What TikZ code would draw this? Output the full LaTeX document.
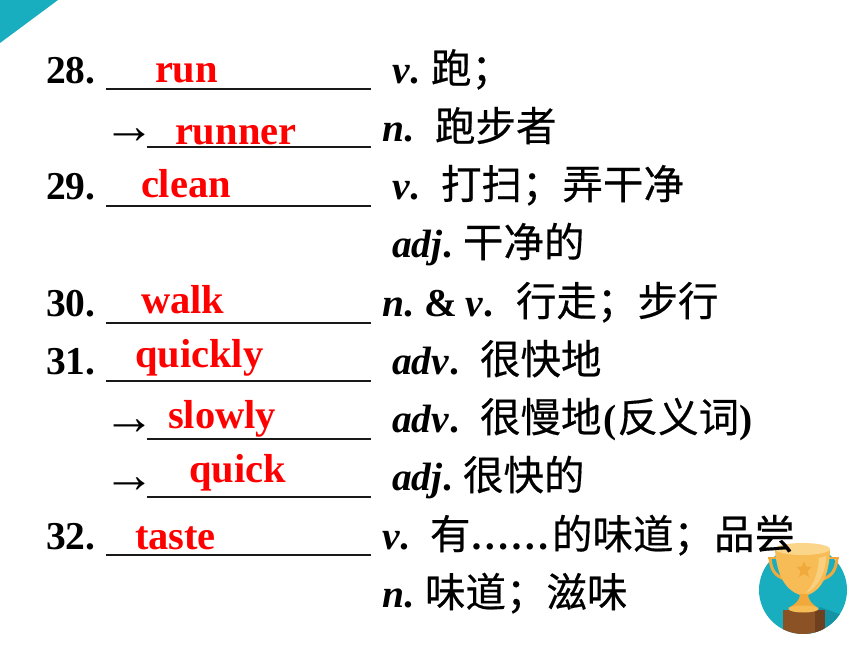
\documentclass[tikz,border=0pt]{standalone}
\usepackage{fontspec}
\setmainfont{Liberation Serif}
\newfontfamily\cjk[FakeBold=0.4]{Noto Sans CJK SC}
\usetikzlibrary{calc}
\definecolor{teal1}{HTML}{19AEBF}
\definecolor{teal2}{HTML}{1592A3}
\definecolor{gold1}{HTML}{F7BC55}
\definecolor{gold2}{HTML}{F2A93B}
\definecolor{gold3}{HTML}{FBD58A}
\definecolor{brown1}{HTML}{8B5226}
\definecolor{brown2}{HTML}{6F4020}
\tikzset{
  x=1pt,y=-1pt,
  txt/.style={inner sep=0pt,outer sep=0pt,anchor=base west,font=\fontsize{39.5}{39.5}\selectfont\bfseries},
  arr/.style={txt,font=\fontsize{52}{52}\selectfont},
  ans/.style={txt,text=red,font=\fontsize{40.5}{40.5}\selectfont\bfseries},
  zh/.style={txt,font=\fontsize{40.5}{40.5}\selectfont\cjk},
  blank/.style={line width=2.2pt,black!90},
}
\newcommand{\pos}[1]{\textit{#1}}
\begin{document}
\begin{tikzpicture}
\useasboundingbox (0,0) rectangle (860,645);
\fill[white] (0,0) rectangle (860,645);
\fill[teal1] (0,0) -- (58,0) -- (0,43) -- cycle;
% trophy
\fill[teal1] (803,590) circle (44);
\begin{scope}
\clip (803,590) circle (44);
\fill[teal2] (820,607) -- (850,618) -- (830,640) -- (800,640) -- cycle;
\fill[brown1] (783,610) rectangle (825,640);
\fill[brown2] (815,610) rectangle (825,640);
\end{scope}
\draw[gold2,line width=3pt] (770,558) .. controls (771,570) and (775,576) .. (785,579);
\draw[gold2,line width=3pt] (837,558) .. controls (836,570) and (832,576) .. (823,579);
\draw[gold2,line width=2.4pt] (768,558) -- (780,558) (828,558) -- (839,558);
\fill[gold1] (775,550) .. controls (777,575) and (785,592) .. (804,596) .. controls (822,592) and (829,575) .. (830,550) -- cycle;
\fill[gold3,opacity=.8] (826,556) .. controls (826,572) and (818,588) .. (806,593) .. controls (816,582) and (818,570) .. (819,558) -- cycle;
\fill[gold3] (775,549) arc[start angle=180,end angle=0,x radius=27.5,y radius=-6] arc[start angle=0,end angle=180,x radius=27.5,y radius=6];
\fill[gold2] (800,594) -- (808,594) .. controls (808,600) and (812,604) .. (818,608) -- (788,608) .. controls (796,604) and (800,600) .. (800,594) -- cycle;
\fill[gold1] (803.5,609) ellipse (15 and 3.5);
\fill[gold2] (804,561) -- (806.2,566.5) -- (811.5,567) -- (807.5,571) -- (809,577) -- (804,574) -- (799,577) -- (800.5,571) -- (796.5,567) -- (801.8,566.5) -- cycle;
% numbers
\node[txt] (n28) at (46,83) {28.};
\node[txt] (n29) at (46,199) {29.};
\node[txt] (n30) at (46,316) {30.};
\node[txt] (n31) at (46,374) {31.};
\node[txt] (n32) at (46,549) {32.};
% arrows
\node[arr] (a1) at (103,143) {→};
\node[arr] (a2) at (103,434) {→};
\node[arr] (a3) at (103,492) {→};
% blanks
\draw[blank] (106,89) -- (371,89);
\draw[blank] (147,147) -- (371,147);
\draw[blank] (106,206) -- (371,206);
\draw[blank] (106,323) -- (371,323);
\draw[blank] (106,381) -- (371,381);
\draw[blank] (147,439) -- (371,439);
\draw[blank] (147,497) -- (371,497);
\draw[blank] (106,555) -- (371,555);
% answers
\node[ans] (run) at (155,82) {run};
\node[ans] (runner) at (175,144) {runner};
\node[ans] (clean) at (141,197) {clean};
\node[ans] (walk) at (141,313) {walk};
\node[ans] (quickly) at (135,367) {quickly};
\node[ans] (slowly) at (168,428) {slowly};
\node[ans] (quick) at (189,482) {quick};
\node[ans] (taste) at (135,549) {taste};
% parts of speech
\node[txt] (p1) at (392,83) {\pos{v}.};
\node[zh] (z1) at (431,83) {跑；};
\node[txt] (p2) at (382,141) {\pos{n}.};
\node[zh] (z2) at (435,141) {跑步者};
\node[txt] (p3) at (392,199) {\pos{v}.};
\node[zh] (z3) at (441,199) {打扫；弄干净};
\node[txt] (p4) at (392,257) {\pos{adj}.};
\node[zh] (z4) at (463,257) {干净的};
\node[txt] (p5) at (382,316) {\pos{n}.\kern-2pt{} \& \kern-2pt\pos{v}.};
\node[zh] (z5) at (516,316) {行走；步行};
\node[txt] (p6) at (392,374) {\pos{adv}.};
\node[zh] (z6) at (480,374) {很快地};
\node[txt] (p7) at (392,432) {\pos{adv}.};
\node[zh] (z7) at (480,432) {很慢地};
\node[txt] (z7b) at ([xshift=2pt]z7.base east) {(};
\node[zh] (z7c) at ([xshift=1pt]z7b.base east) {反义词};
\node[txt] (z7d) at (z7c.base east) {)};
\node[txt] (p8) at (392,490) {\pos{adj}.};
\node[zh] (z8) at (463,490) {很快的};
\node[txt] (p9) at (382,549) {\pos{v}.};
\node[zh] (z9a) at (430,549) {有};
\node[txt] (z9b) at (z9a.base east) {……};
\node[zh] (z9c) at ([xshift=2.5pt]z9b.base east) {的味道；品尝};
\node[txt] (p10) at (382,607) {\pos{n}.};
\node[zh] (z10) at (425,607) {味道；滋味};
\end{tikzpicture}
\end{document}
